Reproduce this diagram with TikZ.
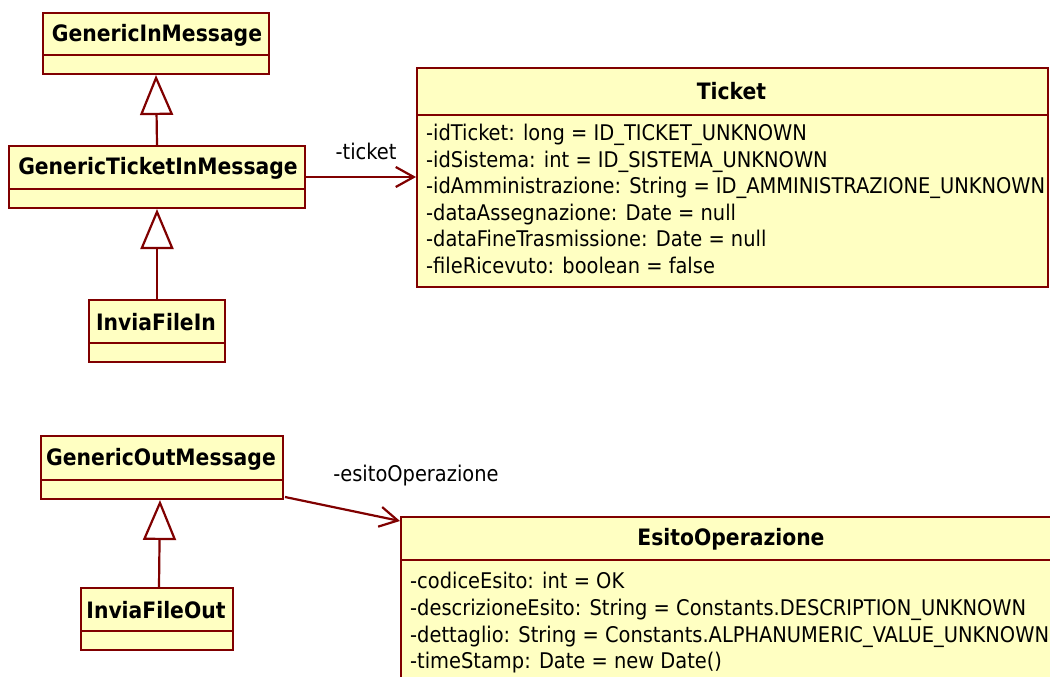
\documentclass[tikz,border=0pt]{standalone}
\usepackage{fontspec}
\setmainfont{DejaVu Sans Condensed}
\usetikzlibrary{arrows.meta,calc}
\definecolor{umlred}{RGB}{128,0,0}
\definecolor{umlfill}{RGB}{255,255,194}
\tikzset{
  clsbox/.style={draw=umlred, fill=umlfill, line width=2pt, rectangle, inner sep=0pt, anchor=north west},
  divider/.style={draw=umlred, line width=2pt},
  clstitle/.style={font=\fontsize{22.6}{26}\selectfont\bfseries, inner sep=0pt, yshift=-1.5pt},
  attr/.style={font=\fontsize{21.6}{26}\selectfont, inner sep=0pt, anchor=west, text height=15pt, text depth=4pt, yshift=-2pt},
  rolelabel/.style={font=\fontsize{21.6}{26}\selectfont, inner sep=0pt},
  generalization/.style={draw=umlred, line width=2.2pt, -{Triangle[length=40pt, width=33pt, fill=white, line width=2.2pt]}},
  association/.style={draw=umlred, line width=2.2pt, -{Straight Barb[length=18pt, width=20pt, line width=2.2pt]}}
}
\begin{document}
\begin{tikzpicture}[x=1pt, y=-1pt]
\useasboundingbox (0,0) rectangle (1050,677);

% ---- incoming messages ----
\node[clsbox, minimum width=226pt, minimum height=61pt] (gim) at (42,12) {};
\draw[divider] (42,55) -- (270,55);
\node[clstitle] (gimT) at (157,33.5) {GenericInMessage};

\node[clsbox, minimum width=296pt, minimum height=62pt] (gtim) at (8,145) {};
\draw[divider] (8,189) -- (306,189);
\node[clstitle] (gtimT) at (158,167) {GenericTicketInMessage};

\node[clsbox, minimum width=136pt, minimum height=62pt] (vfi) at (88,299) {};
\draw[divider] (88,343) -- (226,343);
\node[clstitle] (vfiT) at (156,321) {InviaFileIn};

% ---- Ticket ----
\node[clsbox, minimum width=631pt, minimum height=219pt] (ticket) at (416,67) {};
\draw[divider] (416,115) -- (1047,115);
\node[clstitle] (ticketT) at (731.5,90) {Ticket};
\node[attr] (t1) at (426,133) {-idTicket: long = ID\_TICKET\_UNKNOWN};
\node[attr] (t2) at (426,159.5) {-idSistema: int = ID\_SISTEMA\_UNKNOWN};
\node[attr] (t3) at (426,186) {-idAmministrazione: String = ID\_AMMINISTRAZIONE\_UNKNOWN};
\node[attr] (t4) at (426,212.5) {-dataAssegnazione: Date = null};
\node[attr] (t5) at (426,239) {-dataFineTrasmissione: Date = null};
\node[attr] (t6) at (426,265.5) {-fileRicevuto: boolean = false};

% ---- outgoing messages ----
\node[clsbox, minimum width=242pt, minimum height=63pt] (gom) at (40,435) {};
\draw[divider] (40,480) -- (284,480);
\node[clstitle] (gomT) at (161,458) {GenericOutMessage};

\node[clsbox, minimum width=152pt, minimum height=62pt] (vfo) at (80,587) {};
\draw[divider] (80,631) -- (234,631);
\node[clstitle] (vfoT) at (156,609) {InviaFileOut};

% ---- EsitoOperazione ----
\node[clsbox, minimum width=670pt, minimum height=180pt] (esito) at (400,516) {};
\draw[divider] (400,560) -- (1070,560);
\node[clstitle] (esitoT) at (731,538) {EsitoOperazione};
\node[attr] (e1) at (410,581) {-codiceEsito: int = OK};
\node[attr] (e2) at (410,608) {-descrizioneEsito: String = Constants.DESCRIPTION\_UNKNOWN};
\node[attr] (e3) at (410,634.5) {-dettaglio: String = Constants.ALPHANUMERIC\_VALUE\_UNKNOWN};
\node[attr] (e4) at (410,661) {-timeStamp: Date = new Date()};

% ---- generalizations ----
\draw[generalization] (gtim.north) -- (gim.south);
\draw[generalization] (vfi.north) -- (vfi.north |- gtim.south);
\coordinate (vfoTop) at ($(vfo.north)+(2,0)$);
\coordinate (gomBot) at ($(gom.south)+(-2,0)$);
\draw[generalization] (vfoTop) -- (gomBot);

% ---- associations ----
\draw[association] (gtim.east) -- (gtim.east -| ticket.west);
\node[rolelabel] (ticketRole) at (366,151) {-ticket};
\coordinate (gomOut) at ($(gom.south east)+(1,-3)$);
\coordinate (esitoIn) at ($(esito.north west)+(0,5)$);
\draw[association] (gomOut) -- (esitoIn);
\node[rolelabel] (esitoRole) at (416,476) {-esitoOperazione};
\end{tikzpicture}
\end{document}
